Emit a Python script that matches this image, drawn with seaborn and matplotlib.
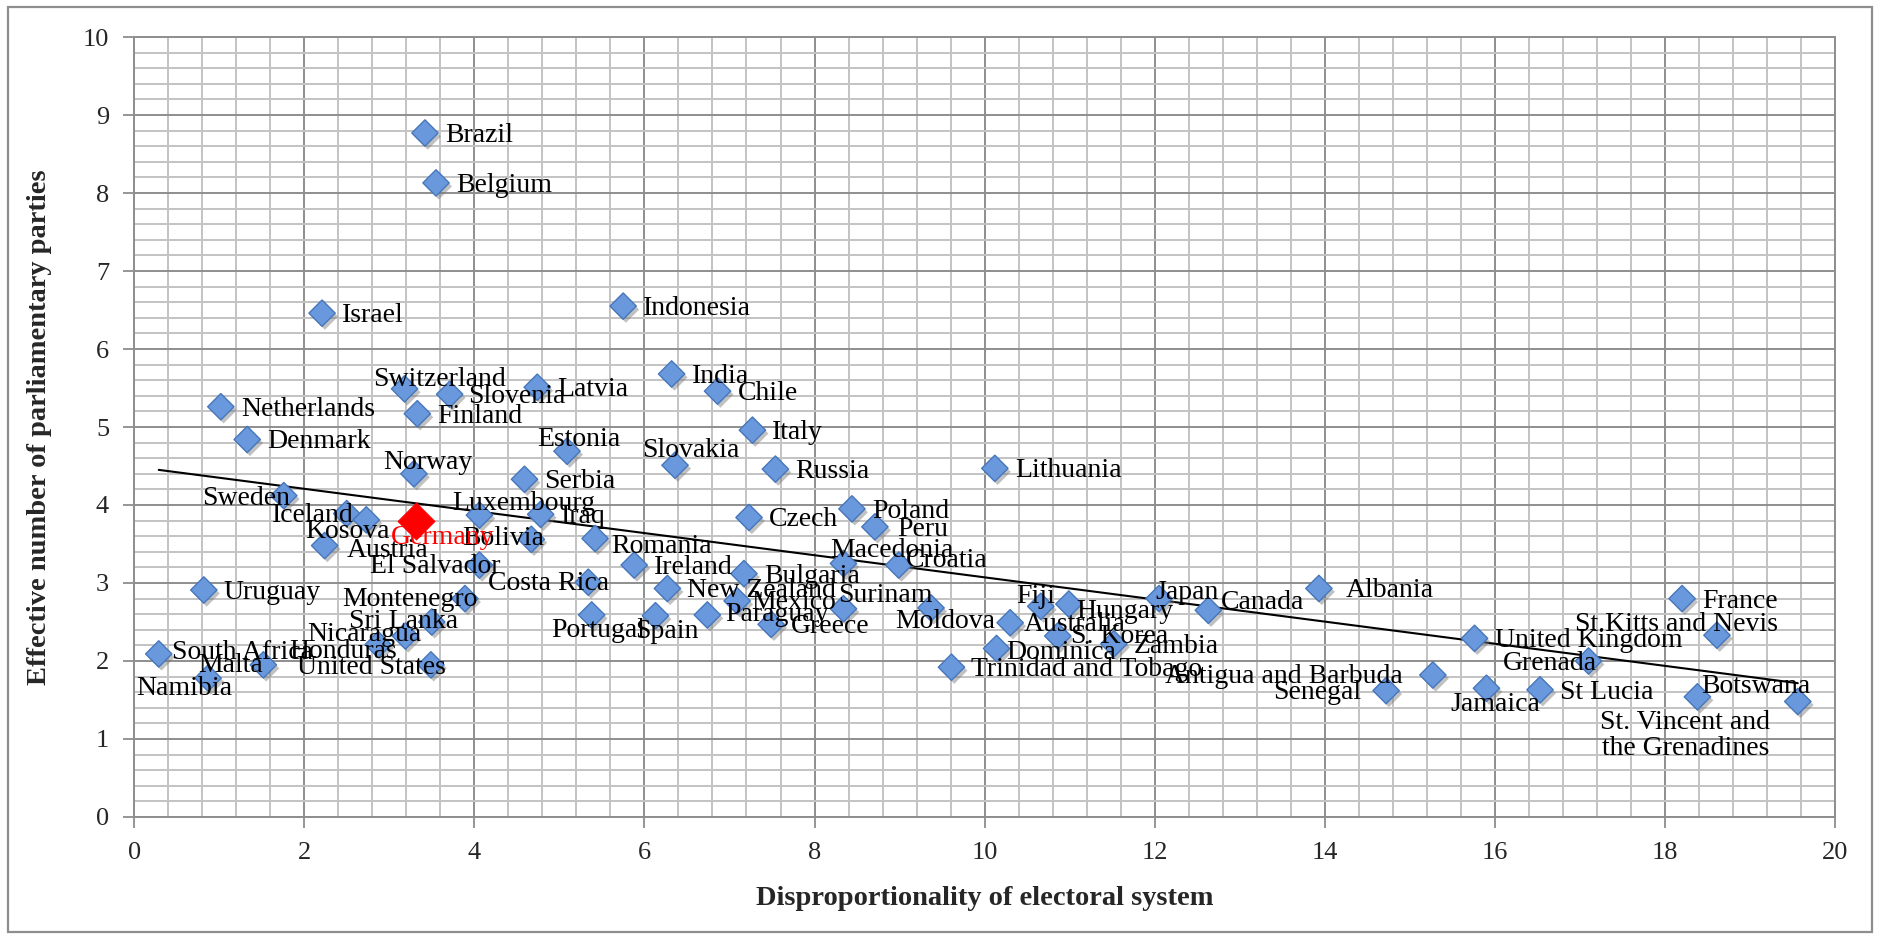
import matplotlib
matplotlib.use("Agg")
import matplotlib.pyplot as plt
import matplotlib.patheffects as pe
from matplotlib.patches import Rectangle
import seaborn as sns
import pandas as pd

# values
countries = [
    "Brazil", "Belgium", "Israel", "Indonesia", "India", "Chile", "Italy",
    "Switzerland", "Slovenia", "Latvia", "Finland", "Netherlands", "Denmark",
    "Estonia", "Slovakia", "Russia", "Lithuania", "Norway", "Serbia", "Sweden",
    "Iceland", "Kosova", "Austria", "Luxembourg", "Iraq", "Bolivia",
    "El Salvador", "Costa Rica", "Portugal", "Montenegro", "Sri Lanka",
    "Nicaragua", "Honduras", "United States", "Uruguay", "South Africa",
    "Malta", "Namibia", "Romania", "Ireland", "Spain", "New Zealand",
    "Paraguay", "Mexico", "Greece", "Bulgaria", "Czech", "Poland", "Peru",
    "Macedonia", "Croatia", "Surinam", "Moldova", "Trinidad and Tobago",
    "Fiji", "Hungary", "Australia", "S. Korea", "Zambia", "Dominica",
    "Japan", "Canada", "Albania", "Senegal", "Antigua and Barbuda",
    "Jamaica", "St Lucia", "United Kingdom", "Grenada", "France",
    "St.Kitts and Nevis", "St. Vincent and\nthe Grenadines", "Botswana",
    "Germany",
]
disproportionality = [
    3.42, 3.55, 2.21, 5.75, 6.32, 6.86, 7.27,
    3.18, 3.71, 4.74, 3.33, 1.02, 1.33,
    5.09, 6.36, 7.54, 10.12, 3.29, 4.59, 1.76,
    2.50, 2.73, 2.24, 4.06, 4.78, 4.67,
    4.06, 5.34, 5.38, 3.89, 3.50,
    3.19, 2.87, 3.49, 0.82, 0.29,
    1.52, 0.87, 5.42, 5.88, 6.13, 6.27,
    6.74, 7.09, 7.49, 7.17, 7.23, 8.44, 8.71,
    8.34, 8.99, 8.34, 9.37, 9.61,
    10.66, 10.99, 10.30, 10.86, 11.52, 10.14,
    12.05, 12.63, 13.93, 14.72, 15.27,
    15.90, 16.53, 15.76, 17.10, 18.20,
    18.61, 18.38, 19.56,
    3.31,
]
effective_parties = [
    8.77, 8.13, 6.46, 6.55, 5.68, 5.46, 4.96,
    5.49, 5.42, 5.51, 5.17, 5.26, 4.84,
    4.69, 4.51, 4.46, 4.47, 4.40, 4.33, 4.12,
    3.89, 3.81, 3.48, 3.87, 3.88, 3.56,
    3.23, 3.01, 2.59, 2.80, 2.50,
    2.32, 2.21, 1.95, 2.91, 2.09,
    1.95, 1.78, 3.57, 3.23, 2.58, 2.93,
    2.59, 2.77, 2.47, 3.12, 3.84, 3.95, 3.72,
    3.25, 3.23, 2.67, 2.68, 1.92,
    2.70, 2.73, 2.49, 2.32, 2.22, 2.16,
    2.80, 2.65, 2.93, 1.62, 1.82,
    1.65, 1.63, 2.29, 2.00, 2.80,
    2.33, 1.54, 1.48,
    3.79,
]
highlight = "Germany"

# label placement (pixel offset of text left edge / baseline from the marker)
label_offsets = {
    "Sweden": (-82, -9), "Iceland": (-75, -8), "Kosova": (-61, -18),
    "Austria": (22, -11), "Germany": (-25, -23), "Norway": (-31, 5),
    "Luxembourg": (-27, 5), "Bolivia": (-69, -6), "El Salvador": (-109, -8),
    "Costa Rica": (-100, -8), "Montenegro": (-123, -7), "Sri Lanka": (-83, -6),
    "Nicaragua": (-98, -5), "Honduras": (-89, -13), "United States": (-134, -9),
    "Malta": (-65, -7), "Namibia": (-72, -17), "Portugal": (-40, -22),
    "Spain": (-20, -22), "Macedonia": (-13, 6), "Croatia": (7, -2),
    "Surinam": (-5, 7), "Moldova": (-36, -20), "Fiji": (-25, 3),
    "Hungary": (7, -14), "Australia": (14, -8), "S. Korea": (13, -7),
    "Dominica": (10, -11), "Japan": (-4, 0), "Canada": (13, 1),
    "Albania": (27, -9), "Antigua and Barbuda": (-268, -8),
    "Senegal": (-113, -8), "Grenada": (-86, -9), "Jamaica": (-36, -23),
    "St.Kitts and Nevis": (-142, 4), "Botswana": (-97, 9),
    "Switzerland": (-31, 3), "Estonia": (-30, 5), "Slovakia": (-33, 8),
    "South Africa": (13, -5), "Mexico": (14, -8), "Paraguay": (18, -6),
    "Romania": (16, -14), "Peru": (22, -9), "Slovenia": (18, -9),
}
default_offset = (20, -9)

df = pd.DataFrame({"country": countries, "dispro": disproportionality,
                   "enpp": effective_parties})
others = df[df["country"] != highlight]
germ = df[df["country"] == highlight]

sns.set_style("white")
plt.rcParams["font.family"] = ["Liberation Serif", "DejaVu Serif"]

fig = plt.figure(figsize=(18.78, 9.39), dpi=100)
ax = fig.add_axes([0.0714, 0.130, 0.9058, 0.8305])

shadow = [pe.SimplePatchShadow(offset=(2, -2.5), shadow_rgbFace="#777777", alpha=0.45), pe.Normal()]

# linear trend over all countries
sns.regplot(data=df, x="dispro", y="enpp", scatter=False, ci=None, truncate=True,
            line_kws=dict(color="black", lw=1.5, zorder=3), ax=ax)

sns.scatterplot(data=others, x="dispro", y="enpp", marker="D", s=180,
                color="#6A98DD", edgecolor="#4677BC", linewidth=1.0, ax=ax, zorder=4)
ax.collections[-1].set_path_effects(shadow)
sns.scatterplot(data=germ, x="dispro", y="enpp", marker="D", s=360,
                color="#FF0000", edgecolor="#FF0000", linewidth=0.5, ax=ax, zorder=5)

for name, xv, yv in zip(df["country"], df["dispro"], df["enpp"]):
    dx, dy = label_offsets.get(name, default_offset)
    red = name == highlight
    if "\n" in name:
        ax.annotate(name, (xv, yv), xytext=(-12, -13), textcoords="offset pixels",
                    ha="center", va="top", multialignment="center", fontsize=20,
                    linespacing=1.05, color="black", zorder=6)
        continue
    ax.annotate(name, (xv, yv), xytext=(dx, dy), textcoords="offset pixels",
                ha="left", va="baseline", fontsize=20,
                color="red" if red else "black", zorder=6)

ax.set_xlim(0, 20)
ax.set_ylim(0, 10)
ax.set_xticks(range(0, 21, 2))
ax.set_xticks([i * 0.4 for i in range(51)], minor=True)
ax.set_yticks(range(0, 11))
ax.set_yticks([i * 0.2 for i in range(51)], minor=True)
ax.set_axisbelow(True)
ax.grid(which="minor", color="#C3C3C3", lw=1.4)
ax.grid(which="major", color="#8E8E8E", lw=1.4)
ax.tick_params(which="major", direction="out", length=8, width=1.3, color="#8E8E8E",
               labelsize=19, pad=10, bottom=True, left=True)
ax.tick_params(which="minor", length=0)
for s in ax.spines.values():
    s.set_color("#8E8E8E")
    s.set_linewidth(1.4)

ax.set_xlabel("Disproportionality of electoral system", fontsize=20.5,
              fontweight="bold", labelpad=16)
ax.set_ylabel("Effective number of parliamentary parties", fontsize=20.5,
              fontweight="bold", labelpad=22)

# outer chart border
fig.patches.append(Rectangle((0.004, 0.007), 0.993, 0.986, transform=fig.transFigure,
                             fill=False, edgecolor="#8E8E8E", lw=1.6))

fig.savefig("out.png", dpi=100)
